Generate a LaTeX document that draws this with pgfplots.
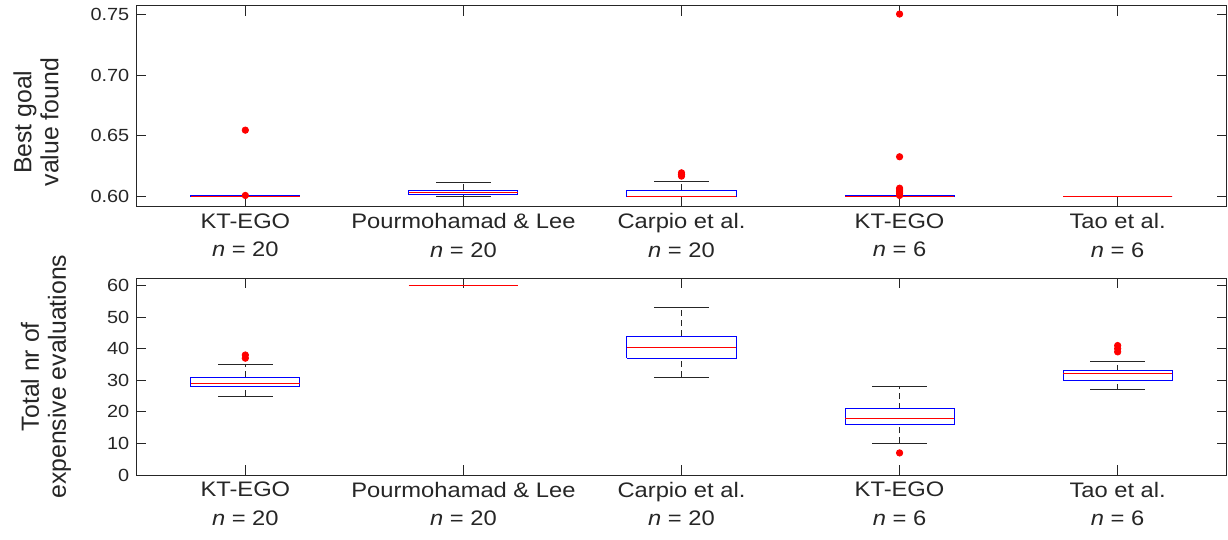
\documentclass[border=0pt]{standalone}
\usepackage{fontspec}
\setmainfont[FakeStretch=1.13]{Liberation Sans}
\newfontfamily\labelfont{Liberation Sans}
\usepackage{pgfplots}
\pgfplotsset{compat=1.18}

\definecolor{axisgray}{RGB}{38,38,38}
\definecolor{boxblue}{RGB}{0,0,255}
\definecolor{medred}{RGB}{255,0,0}

\pgfplotsset{
  bp whisker/.style={axisgray, line width=0.5pt, dash pattern=on 3pt off 2pt, forget plot},
  bp cap/.style={axisgray, line width=0.5pt, forget plot},
  bp box/.style={boxblue, line width=0.5pt, forget plot},
  bp median/.style={medred, line width=0.5pt, forget plot},
  bp outlier/.style={only marks, mark=*, mark size=1.6pt, color=medred, forget plot},
  method axis/.style={
    scale only axis, width=545.2pt,
    xmin=0.5, xmax=5.5,
    xtick={1,2,3,4,5},
    xticklabels={{KT-EGO\\\textit{n} = 20},{Pourmohamad \& Lee\\\textit{n} = 20},
                 {Carpio et al.\\\textit{n} = 20},{KT-EGO\\\textit{n} = 6},{Tao et al.\\\textit{n} = 6}},
    xticklabel style={align=center, font=\fontsize{10.5}{14.25}\selectfont, text=axisgray},
    yticklabel style={font=\fontsize{8.8}{10}\selectfont, text=axisgray},
    /pgf/number format/assume math mode=true,
    tick align=inside, major tick length=5pt,
    tick style={axisgray, line width=0.5pt},
    axis line style={axisgray, line width=0.5pt},
    ylabel style={font=\labelfont\fontsize{12.4}{13.5}\selectfont, align=center,
                  text=axisgray, anchor=center, rotate=0},
  },
}

% whisker box: #1 position, #2 lower whisker, #3 Q1, #4 median, #5 Q3, #6 upper whisker
\newcommand{\drawbox}[6]{%
  \pgfmathsetmacro{\bxl}{#1-0.25}%
  \pgfmathsetmacro{\bxr}{#1+0.25}%
  \pgfmathsetmacro{\cxl}{#1-0.125}%
  \pgfmathsetmacro{\cxr}{#1+0.125}%
  \edef\dobox{%
    \noexpand\addplot[bp whisker] coordinates {(#1,#2) (#1,#3)};
    \noexpand\addplot[bp whisker] coordinates {(#1,#5) (#1,#6)};
    \noexpand\addplot[bp cap] coordinates {(\cxl,#2) (\cxr,#2)};
    \noexpand\addplot[bp cap] coordinates {(\cxl,#6) (\cxr,#6)};
    \noexpand\addplot[bp box] coordinates {(\bxl,#3) (\bxr,#3) (\bxr,#5) (\bxl,#5) (\bxl,#3)};
    \noexpand\addplot[bp median] coordinates {(\bxl,#4) (\bxr,#4)};
  }\dobox}

\begin{document}
\begin{tikzpicture}
\useasboundingbox (0,0) rectangle (614pt,-270pt);

% best goal value found
\begin{axis}[
  method axis,
  at={(68.15pt,-103.35pt)}, anchor=south west,
  height=100.5pt,
  ymin=0.5912, ymax=0.7574,
  ytick={0.60,0.65,0.70,0.75},
  yticklabel style={/pgf/number format/fixed, /pgf/number format/fixed zerofill,
                    /pgf/number format/precision=2},
  ylabel={Best goal\\value found},
  ylabel style={at={(axis description cs:-0.092,0.42)}},
]
\drawbox{1}{0.5996}{0.5999}{0.6}{0.6001}{0.6004}
\drawbox{2}{0.5998}{0.6009}{0.6027}{0.6050}{0.6108}
\drawbox{3}{0.5995}{0.5995}{0.5997}{0.6050}{0.6124}
\drawbox{4}{0.5996}{0.5999}{0.6}{0.6001}{0.6004}
\drawbox{5}{0.5996}{0.5996}{0.5996}{0.5996}{0.5996}
\addplot[bp outlier] coordinates {
  (1,0.6545) (1,0.6005)
  (3,0.6165) (3,0.6178) (3,0.6192)
  (4,0.7505) (4,0.6325) (4,0.6005) (4,0.6020) (4,0.6035) (4,0.6050) (4,0.6065)
};
\end{axis}

% total number of expensive evaluations
\begin{axis}[
  method axis,
  at={(68.15pt,-237.5pt)}, anchor=south west,
  height=98.35pt,
  ymin=0, ymax=62.3,
  ytick={0,10,20,30,40,50,60},
  ylabel={Total nr of\\expensive evaluations},
  ylabel style={at={(axis description cs:-0.0828,0.50)}},
]
\drawbox{1}{25}{28}{29}{31}{35}
\drawbox{2}{60}{60}{60}{60}{60}
\drawbox{3}{31}{37}{40.5}{44}{53}
\drawbox{4}{10}{16}{18}{21}{28}
\drawbox{5}{27}{30}{32}{33}{36}
\addplot[bp outlier] coordinates {
  (1,37) (1,38)
  (4,7)
  (5,39) (5,40) (5,41)
};
\end{axis}
\end{tikzpicture}
\end{document}
